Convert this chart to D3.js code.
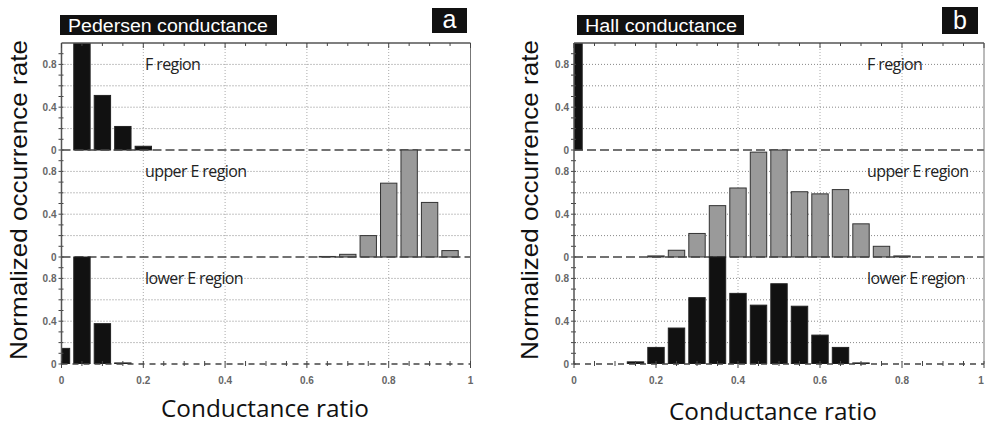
<!DOCTYPE html>
<html>
<head>
<meta charset="utf-8">
<script src="https://cdn.jsdelivr.net/npm/d3@7"></script>
<style>
  body { margin: 0; background: #fff; }
  svg { display: block; }
</style>
</head>
<body>
<div id="chart"></div>
<script>
// bin centres: 0, 0.05, ... 1
const bins = d3.range(21).map(i => i * 0.05);
const yTickLabels = [0, 0.4, 0.8];
const xTickLabels = [0, 0.2, 0.4, 0.6, 0.8, 1];
const regionNames = ["F region", "upper E region", "lower E region"];

// Pedersen conductance (panel a)
const pedF     = [0, 1.0, 0.51, 0.22, 0.035, 0, 0, 0, 0, 0, 0, 0, 0, 0, 0, 0, 0, 0, 0, 0, 0];
const pedUpper = [0, 0, 0, 0, 0, 0, 0, 0, 0, 0, 0, 0, 0, 0.005, 0.025, 0.2, 0.69, 1.0, 0.51, 0.06, 0];
const pedLower = [0.146, 1.0, 0.377, 0.01, 0, 0, 0, 0, 0, 0, 0, 0, 0, 0, 0, 0, 0, 0, 0, 0, 0];

// Hall conductance (panel b)
const hallF     = [1.0, 0, 0, 0, 0, 0, 0, 0, 0, 0, 0, 0, 0, 0, 0, 0, 0, 0, 0, 0, 0];
const hallUpper = [0, 0, 0, 0, 0.01, 0.063, 0.22, 0.48, 0.645, 0.98, 1.0, 0.61, 0.59, 0.63, 0.31, 0.10, 0.01, 0, 0, 0, 0];
const hallLower = [0, 0, 0, 0.02, 0.155, 0.336, 0.62, 1.0, 0.66, 0.55, 0.75, 0.54, 0.27, 0.155, 0.01, 0, 0, 0, 0, 0, 0];

const W = 985, H = 432;
const svg = d3.select("#chart").append("svg").attr("width", W).attr("height", H);

const panelTops = [43, 150, 257];
const panelH = 107;

const panels = [
  { x0: 61.5, x1: 470.5, title: "Pedersen conductance", titleBox: [60, 15, 217, 20], titleLen: 200, letter: "a", letterBox: [432, 8, 35, 25],
    series: [pedF, pedUpper, pedLower], labelX: 145, yLabelX: 27, xLabelX: 265, xLabelY: 417 },
  { x0: 574, x1: 984, title: "Hall conductance", titleBox: [577, 15, 167, 20], titleLen: 152, letter: "b", letterBox: [942, 7, 36, 27],
    series: [hallF, hallUpper, hallLower], labelX: 867, yLabelX: 538, xLabelX: 773, xLabelY: 420 }
];
const fills = ["#111", "#9a9a9a", "#111"];
const strokes = ["#222", "#333", "#222"];

panels.forEach((p, pi) => {
  const x = d3.scaleLinear().domain([0, 1]).range([p.x0, p.x1]);
  const g = svg.append("g");
  const clipId = "clip" + pi;
  svg.append("clipPath").attr("id", clipId).append("rect")
    .attr("x", p.x0).attr("y", panelTops[0]).attr("width", p.x1 - p.x0).attr("height", panelH * 3);

  // vertical dotted grid
  g.selectAll(".vg").data([0.2, 0.4, 0.6, 0.8]).join("line")
    .attr("x1", d => x(d)).attr("x2", d => x(d))
    .attr("y1", panelTops[0]).attr("y2", panelTops[0] + panelH * 3)
    .attr("stroke", "#aaa").attr("stroke-width", 1).attr("stroke-dasharray", "1,2");

  const bw = x(0.04) - x(0);

  panelTops.forEach((top, ri) => {
    const y = d3.scaleLinear().domain([0, 1]).range([top + panelH, top]);

    // horizontal dotted grid
    g.selectAll(".hg" + ri).data([0.2, 0.4, 0.6, 0.8]).join("line")
      .attr("x1", p.x0).attr("x2", p.x1)
      .attr("y1", d => y(d)).attr("y2", d => y(d))
      .attr("stroke", "#888").attr("stroke-width", 1).attr("stroke-dasharray", "1,2");

    // bars
    const data = bins.map((b, i) => ({ b, v: p.series[ri][i] })).filter(d => d.v > 0);
    g.append("g").attr("clip-path", `url(#${clipId})`)
      .selectAll("rect").data(data).join("rect")
      .attr("x", d => x(d.b) - bw / 2)
      .attr("width", bw)
      .attr("y", d => y(d.v))
      .attr("height", d => y(0) - y(d.v))
      .attr("fill", fills[ri]).attr("stroke", strokes[ri]).attr("stroke-width", 1);

    // zero line (dashed)
    g.append("line")
      .attr("x1", p.x0).attr("x2", p.x1)
      .attr("y1", y(0)).attr("y2", y(0))
      .attr("stroke", "#444").attr("stroke-width", 1.5)
      .attr("stroke-dasharray", ri === 2 ? "6,5" : "9,4");

    // left axis ticks + labels
    g.selectAll(".yt" + ri).data(d3.range(0, 1, 0.1)).join("line")
      .attr("x1", p.x0 - 3).attr("x2", p.x0 + 2)
      .attr("y1", d => y(d)).attr("y2", d => y(d))
      .attr("stroke", "#444").attr("stroke-width", 1);
    g.selectAll(".yl" + ri).data(yTickLabels).join("text")
      .attr("x", p.x0 - 5).attr("y", d => y(d) + 3.5)
      .attr("text-anchor", "end")
      .attr("font-family", "Liberation Sans, Arial, sans-serif")
      .attr("font-size", 10).attr("font-weight", "bold").attr("fill", "#666")
      .text(d => d);

    // region label
    g.append("text")
      .attr("x", p.labelX).attr("y", top + 27)
      .attr("font-family", "Open Sans, sans-serif")
      .attr("font-size", 16).attr("letter-spacing", -0.6).attr("fill", "#222")
      .text(regionNames[ri]);
  });

  // frame: left axis, top and right borders
  g.append("line").attr("x1", p.x0).attr("x2", p.x0)
    .attr("y1", panelTops[0]).attr("y2", panelTops[0] + panelH * 3)
    .attr("stroke", "#555").attr("stroke-width", 1.5);
  g.append("line").attr("x1", p.x0).attr("x2", p.x1)
    .attr("y1", panelTops[0]).attr("y2", panelTops[0])
    .attr("stroke", "#555").attr("stroke-width", 1.5);
  g.append("line").attr("x1", p.x1).attr("x2", p.x1)
    .attr("y1", panelTops[0]).attr("y2", panelTops[0] + panelH * 3)
    .attr("stroke", "#777").attr("stroke-width", 1);

  // x minor ticks on top and bottom
  const bottom = panelTops[0] + panelH * 3;
  g.selectAll(".xtt").data(bins).join("line")
    .attr("x1", d => x(d)).attr("x2", d => x(d))
    .attr("y1", panelTops[0]).attr("y2", d => panelTops[0] + (Math.round(d * 100) % 20 === 0 ? 5 : 3))
    .attr("stroke", "#444").attr("stroke-width", 1);
  g.selectAll(".xtb").data(bins).join("line")
    .attr("x1", d => x(d)).attr("x2", d => x(d))
    .attr("y1", bottom - 3).attr("y2", d => bottom + (Math.round(d * 100) % 20 === 0 ? 4 : 2))
    .attr("stroke", "#444").attr("stroke-width", 1);

  // x axis labels
  g.selectAll(".xl").data(xTickLabels).join("text")
    .attr("x", d => Math.min(x(d), W - 4)).attr("y", bottom + 20)
    .attr("text-anchor", "middle")
    .attr("font-family", "Liberation Sans, Arial, sans-serif")
    .attr("font-size", 10).attr("font-weight", "bold").attr("fill", "#666")
    .text(d => d);

  // title box
  const tb = p.titleBox;
  svg.append("rect").attr("x", tb[0]).attr("y", tb[1]).attr("width", tb[2]).attr("height", tb[3]).attr("fill", "#111");
  svg.append("text").attr("x", tb[0] + 8).attr("y", tb[1] + 17)
    .attr("font-family", "Liberation Sans, Arial, sans-serif").attr("font-size", 18).attr("fill", "#fff")
    .attr("textLength", p.titleLen).attr("lengthAdjust", "spacingAndGlyphs")
    .text(p.title);

  const lb = p.letterBox;
  svg.append("rect").attr("x", lb[0]).attr("y", lb[1]).attr("width", lb[2]).attr("height", lb[3]).attr("fill", "#111");
  svg.append("text").attr("x", lb[0] + lb[2] / 2).attr("y", lb[1] + lb[3] - 5)
    .attr("text-anchor", "middle")
    .attr("font-family", "Liberation Sans, Arial, sans-serif").attr("font-size", 25).attr("fill", "#fff")
    .text(p.letter);

  // axis titles
  svg.append("text")
    .attr("transform", `translate(${p.yLabelX},${200}) rotate(-90)`)
    .attr("text-anchor", "middle")
    .attr("font-family", "Liberation Sans, Arial, sans-serif").attr("font-size", 24).attr("fill", "#111")
    .attr("textLength", 320).attr("lengthAdjust", "spacingAndGlyphs")
    .text("Normalized occurrence rate");
  svg.append("text")
    .attr("x", p.xLabelX).attr("y", p.xLabelY)
    .attr("text-anchor", "middle")
    .attr("font-family", "Open Sans, sans-serif").attr("font-size", 24).attr("fill", "#111")
    .attr("textLength", 208).attr("lengthAdjust", "spacingAndGlyphs")
    .text("Conductance ratio");
});
</script>
</body>
</html>
